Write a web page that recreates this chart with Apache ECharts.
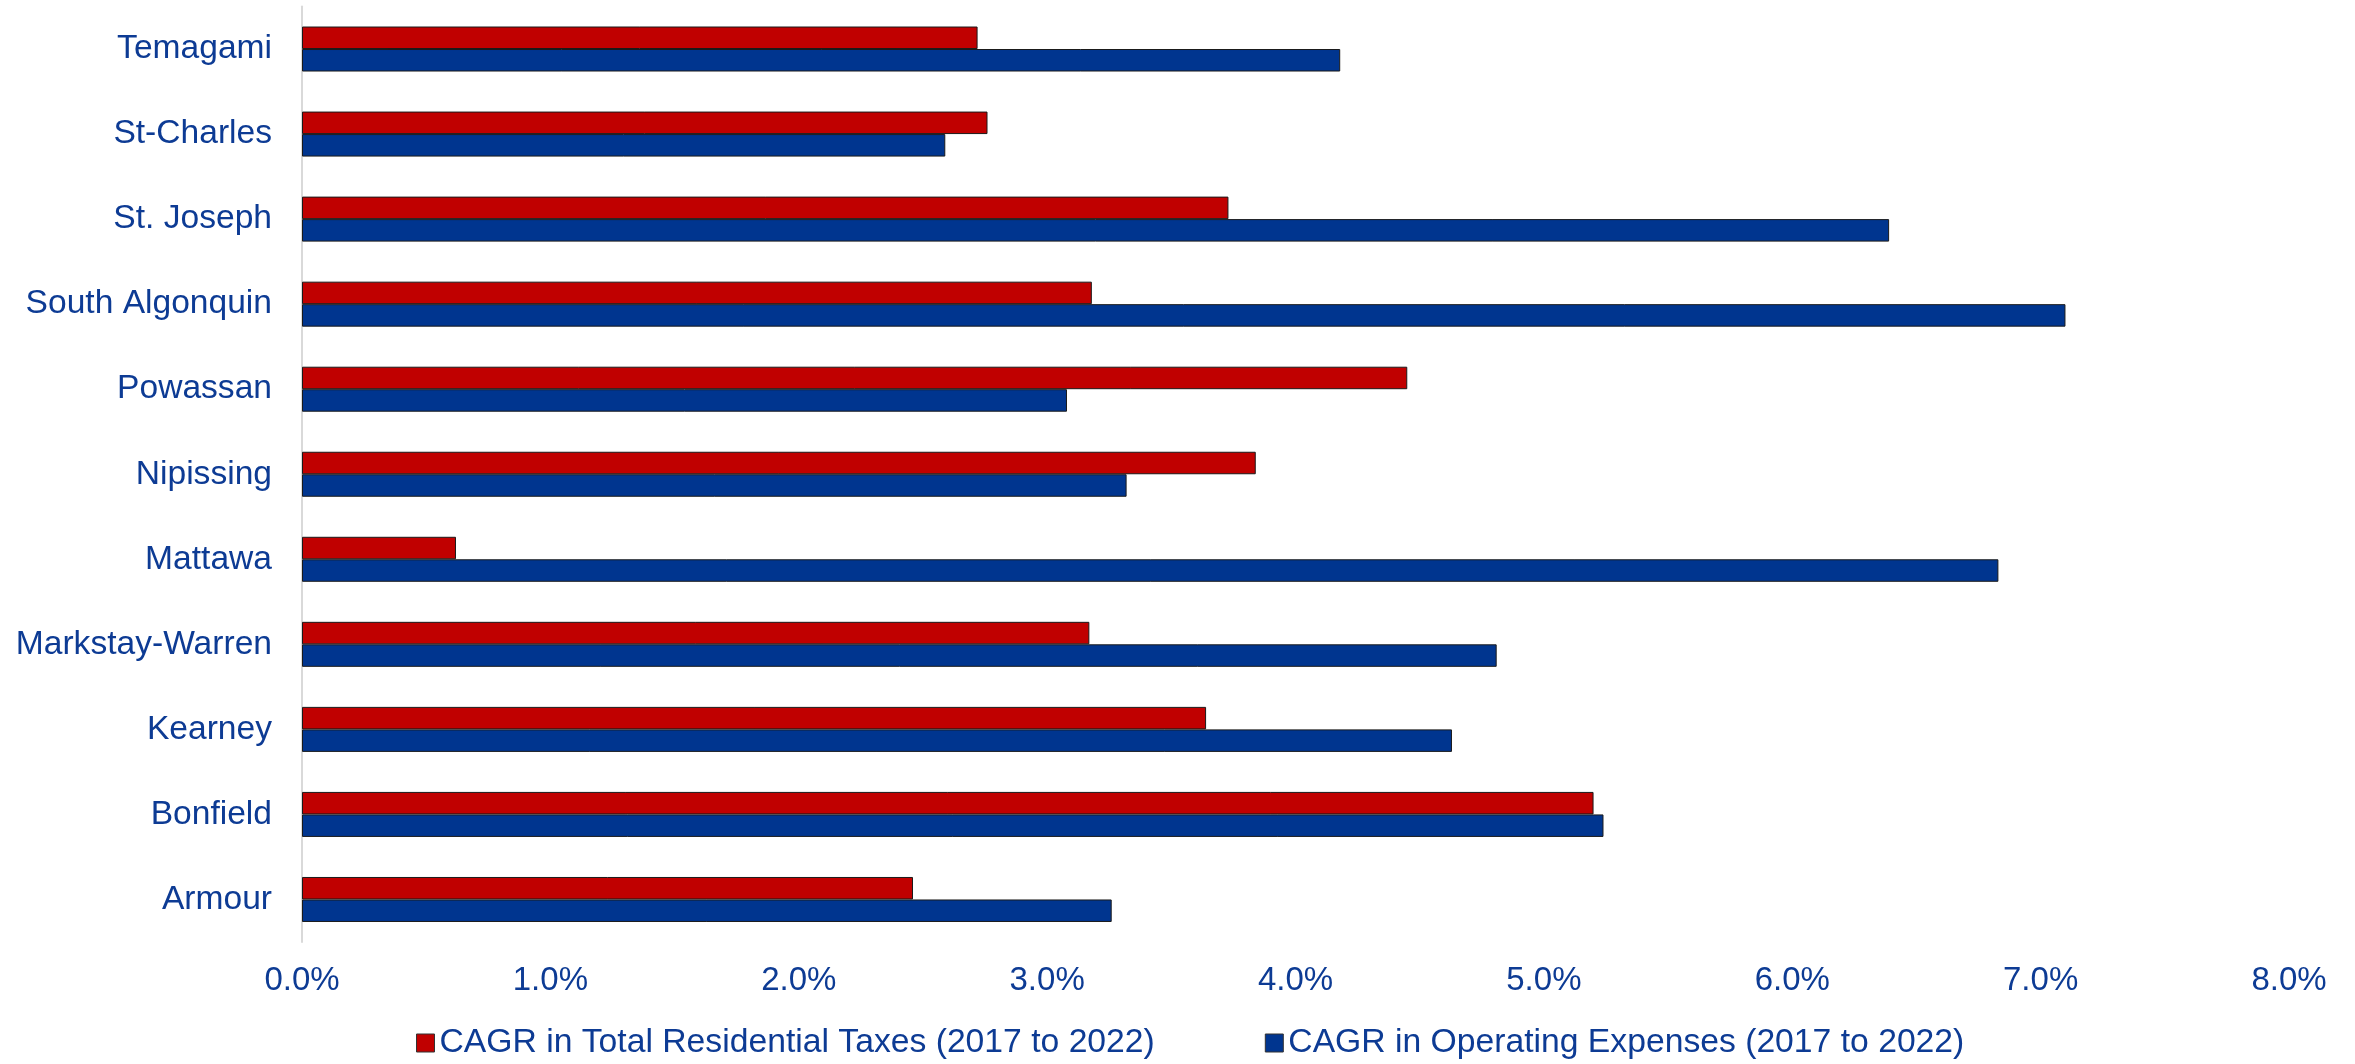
<!DOCTYPE html>
<html>
<head>
<meta charset="utf-8">
<title>CAGR comparison</title>
<script src="https://cdn.jsdelivr.net/npm/echarts@6/dist/echarts.min.js"></script>
<style>
  html, body { margin: 0; padding: 0; background: #ffffff; }
  #chart { width: 2355px; height: 1064px; }
</style>
</head>
<body>
<div id="chart"></div>
<script>
// Municipalities, listed bottom to top along the category axis
const municipalities = [
  'Armour', 'Bonfield', 'Kearney', 'Markstay-Warren', 'Mattawa',
  'Nipissing', 'Powassan', 'South Algonquin', 'St. Joseph', 'St-Charles', 'Temagami'
];

// Compound annual growth rates, in percent
const residentialTaxesCagr = [2.46, 5.20, 3.64, 3.17, 0.62, 3.84, 4.45, 3.18, 3.73, 2.76, 2.72];
const operatingExpensesCagr = [3.26, 5.24, 4.63, 4.81, 6.83, 3.32, 3.08, 7.10, 6.39, 2.59, 4.18];

const seriesNames = [
  'CAGR in Total Residential Taxes (2017 to 2022)',
  'CAGR in Operating Expenses (2017 to 2022)'
];

const textColor = '#0D3B94';
const fontFamily = 'Liberation Sans, Arial, sans-serif';

const chart = echarts.init(document.getElementById('chart'), null, { renderer: 'canvas' });

chart.setOption({
  animation: false,
  backgroundColor: '#ffffff',
  textStyle: { fontFamily: fontFamily, color: textColor },
  grid: { left: 302, right: 66, top: 6.5, height: 935.5, containLabel: false },
  legend: {
    data: seriesNames,
    left: 411,
    top: 1021,
    itemWidth: 18,
    itemHeight: 18,
    itemGap: 110,
    icon: 'rect',
    textStyle: { fontSize: 33.7, color: textColor, fontFamily: fontFamily },
    itemStyle: { borderColor: '#333333', borderWidth: 1 }
  },
  xAxis: {
    type: 'value',
    min: 0,
    max: 8,
    interval: 1,
    axisLine: { show: false },
    axisTick: { show: false },
    splitLine: { show: false },
    axisLabel: {
      fontSize: 33,
      color: textColor,
      margin: 22,
      formatter: v => v.toFixed(1) + '%'
    }
  },
  yAxis: {
    type: 'category',
    data: municipalities,
    axisLine: { show: true, lineStyle: { color: '#D9D9D9', width: 2 } },
    axisTick: { show: false },
    axisLabel: { fontSize: 33.6, color: textColor, margin: 30 }
  },
  series: [
    {
      name: seriesNames[0],
      type: 'bar',
      data: residentialTaxesCagr,
      barWidth: 22.5,
      barGap: '0%',
      itemStyle: { color: '#C00000', borderColor: '#1a1a1a', borderWidth: 1 }
    },
    {
      name: seriesNames[1],
      type: 'bar',
      data: operatingExpensesCagr,
      barWidth: 22.5,
      barGap: '0%',
      itemStyle: { color: '#00358F', borderColor: '#1a1a1a', borderWidth: 1 }
    }
  ]
});
</script>
</body>
</html>
